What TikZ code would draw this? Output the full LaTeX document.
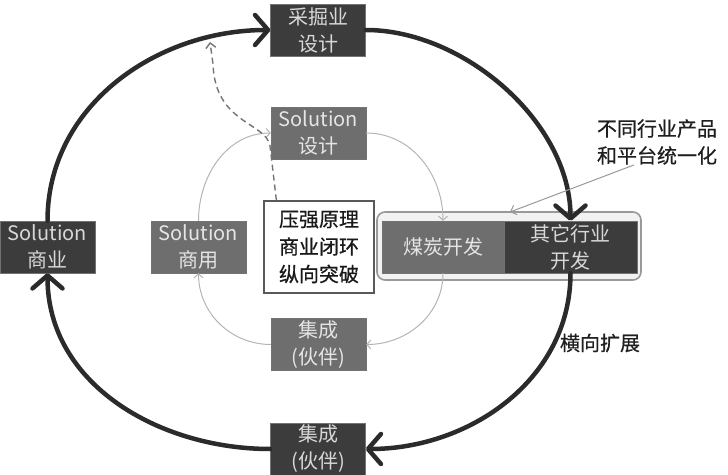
\documentclass[tikz,border=0pt]{standalone}
\usepackage{fontspec}
\setmainfont{Noto Sans CJK SC}
\newfontfamily\heavycjk[FakeBold=0.6]{Noto Sans CJK SC}
\usetikzlibrary{arrows.meta}
\definecolor{darkbox}{HTML}{3C3C3C}
\definecolor{midbox}{HTML}{6E6E6E}
\definecolor{boxtext}{HTML}{D8D8D8}
\definecolor{ring}{HTML}{2B2B2B}
\definecolor{thinring}{HTML}{B4B4B4}
\begin{document}
\begin{tikzpicture}[x=1pt, y=1pt,
	outerbox/.style={fill=darkbox, draw=black!55, text=boxtext, minimum width=95pt, minimum height=52pt, inner sep=0pt, align=center, font=\fontsize{20}{27}\selectfont},
	innerbox/.style={outerbox, fill=midbox, text=black!10},
	holder/.style={fill=black!5, draw=black!40, line width=1.6pt, rounded corners=8pt, minimum width=264pt, minimum height=68pt},
	notebox/.style={fill=white, draw=black!65, line width=1.2pt, text=black!90, minimum width=110pt, minimum height=92pt, inner sep=0pt, align=center, font=\heavycjk\fontsize{20}{27.5}\selectfont},
	remark/.style={text=black!88, inner sep=0pt, align=center, font=\heavycjk\fontsize{20}{27}\selectfont},
	bigflow/.style={ring, line width=4.5pt, line cap=round, -{Straight Barb[length=13pt, width=30pt, round]}},
	thinflow/.style={thinring, line width=1pt, -{Straight Barb[length=4pt, width=9pt]}},
	dashflow/.style={black!55, line width=1.4pt, dash pattern=on 6pt off 4pt, -{Straight Barb[length=5pt, width=10pt]}},
	pointer/.style={black!40, line width=1pt, -{Straight Barb[length=5pt, width=10pt]}}]
	\useasboundingbox (0,0) rectangle (728,474);
	\node[holder] (holder) at (509,228) {};
	\node[innerbox, minimum width=122pt] (coal) at (443,227) {煤炭开发};
	\node[outerbox, minimum width=133pt] (other) at (570.5,227) {其它行业\\开发};
	\node[outerbox] (dig) at (318,444) {采掘业\\设计};
	\node[outerbox] (bizout) at (47.5,227) {Solution\\商业};
	\node[outerbox] (partout) at (318,25) {集成\\(伙伴)};
	\node[innerbox] (soldes) at (318.5,341) {Solution\\设计};
	\node[innerbox] (soluse) at (198.5,227) {Solution\\商用};
	\node[innerbox] (partin) at (318.5,129.5) {集成\\(伙伴)};
	\node[notebox] (note) at (319,227) {压强原理\\商业闭环\\纵向突破};
	\node[remark] (unify) at (657,332) {不同行业产品\\和平台统一化};
	\node[remark] (spread) at (600,131) {横向扩展};
	\coordinate (hit) at (510,262);
	\coordinate (dashtip) at (210,432);
	\draw[bigflow] (dig.east) to[out=0, in=90, looseness=0.9] (other.north);
	\draw[bigflow] (other.south) to[out=-90, in=0] (partout.east);
	\draw[bigflow] (partout.west) to[out=180, in=-90] (bizout.south);
	\draw[bigflow] (bizout.north) to[out=90, in=180] (dig.west);
	\draw[thinflow] (soldes.east) to[out=0, in=90] (coal.north);
	\draw[thinflow] (coal.south) to[out=-90, in=0] (partin.east);
	\draw[thinflow] (partin.west) to[out=180, in=-90] (soluse.south);
	\draw[thinflow] (soluse.north) to[out=90, in=180] (soldes.west);
	\draw[dashflow] ([xshift=13pt]note.north west) -- (270,328) .. controls (266,352) and (215,350) .. (213,410) -- (dashtip);
	\draw[pointer] (unify.225) -- (hit);
\end{tikzpicture}
\end{document}
